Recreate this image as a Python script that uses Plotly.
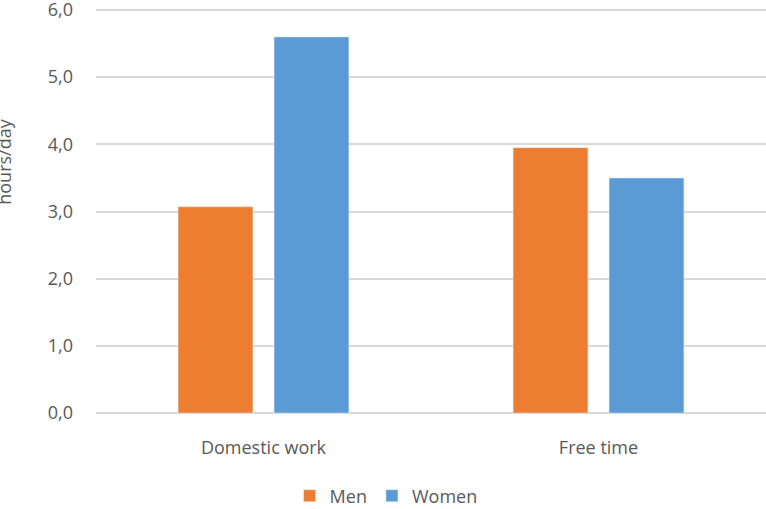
import plotly.graph_objects as go

categories = ["Domestic work", "Free time"]
men = [3.07, 3.95]
women = [5.60, 3.50]
y_ticks = [0, 1, 2, 3, 4, 5, 6]
y_tick_labels = ["0,0", "1,0", "2,0", "3,0", "4,0", "5,0", "6,0"]

font_family = "Open Sans, Liberation Sans, sans-serif"
text_color = "#595959"

fig = go.Figure()
fig.add_trace(go.Bar(name="Men", x=categories, y=men, marker_color="#ED7D31"))
fig.add_trace(go.Bar(name="Women", x=categories, y=women, marker_color="#5B9BD5"))

fig.update_layout(
    width=766, height=509,
    margin=dict(l=96, r=0, t=8, b=96, autoexpand=False),
    paper_bgcolor="white", plot_bgcolor="white",
    barmode="group", bargap=0.427, bargroupgap=0.22,
    font=dict(family=font_family, color=text_color, size=18),
    showlegend=True,
    legend=dict(orientation="h", x=0.433, xanchor="center", y=-0.205, yanchor="middle",
                font=dict(size=18, color=text_color), traceorder="normal"),
)
fig.update_xaxes(showgrid=False, showline=False, ticks="", ticklabelstandoff=22,
                 tickfont=dict(size=18, color=text_color))
fig.update_yaxes(range=[0, 6.03], tickvals=y_ticks, ticktext=y_tick_labels,
                 showgrid=True, gridcolor="#D9D9D9", gridwidth=1.5,
                 zeroline=True, zerolinecolor="#D9D9D9", zerolinewidth=1.5,
                 showline=False, ticks="", ticklabelstandoff=22,
                 ticklabeloverflow="allow",
                 tickfont=dict(size=18, color=text_color))
fig.add_annotation(text="hours/day", xref="paper", yref="paper", x=-0.1375, y=0.62,
                   xanchor="center", yanchor="middle", textangle=-90, showarrow=False,
                   font=dict(size=18, color=text_color))

fig.write_html("out.html", config={"displayModeBar": False},
               post_script="document.body.style.margin='0';")
